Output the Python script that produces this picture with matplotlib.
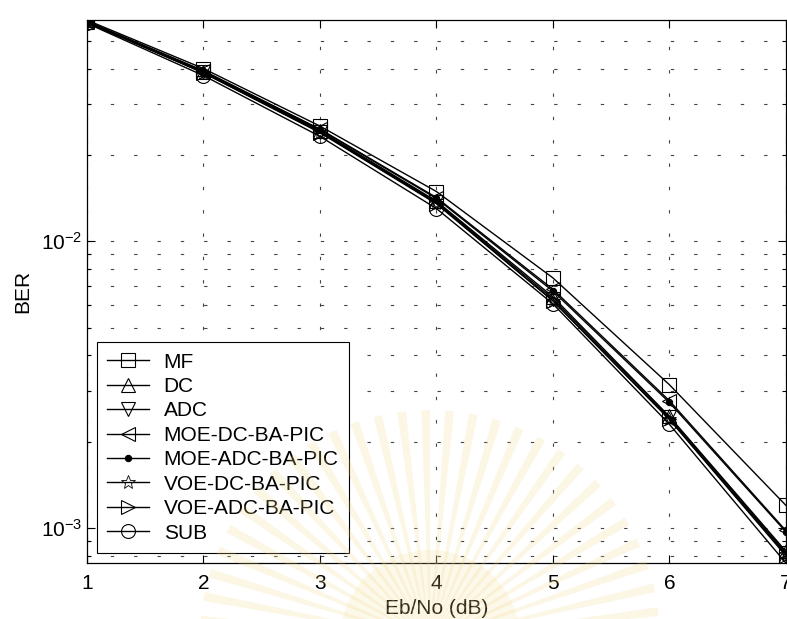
import matplotlib
matplotlib.use("Agg")
import matplotlib.pyplot as plt
from matplotlib.patches import Wedge
import numpy as np

plt.rcParams['font.family'] = ['Liberation Sans', 'DejaVu Sans']
plt.rcParams['mathtext.fontset'] = 'custom'
plt.rcParams['mathtext.rm'] = 'Liberation Sans'
plt.rcParams['mathtext.it'] = 'Liberation Sans:italic'
plt.rcParams['mathtext.bf'] = 'Liberation Sans:bold'

# Eb/No in dB
ebno = [1, 2, 3, 4, 5, 6, 7]

labels = ["MF", "DC", "ADC", "MOE-DC-BA-PIC", "MOE-ADC-BA-PIC",
          "VOE-DC-BA-PIC", "VOE-ADC-BA-PIC", "SUB"]

ber_mf = [0.0590, 0.0400, 0.0252, 0.0149, 0.00745, 0.00316, 0.00120]
ber_dc = [0.0580, 0.0390, 0.0243, 0.0138, 0.00640, 0.00245, 0.00083]
ber_adc = [0.0580, 0.0388, 0.0241, 0.0137, 0.00630, 0.00243, 0.00082]
ber_moe_dc = [0.0585, 0.0393, 0.0246, 0.0142, 0.00680, 0.00278, 0.00098]
ber_moe_adc = [0.0583, 0.0392, 0.0245, 0.0141, 0.00670, 0.00274, 0.00097]
ber_voe_dc = [0.0580, 0.0387, 0.0240, 0.0136, 0.00620, 0.00240, 0.00081]
ber_voe_adc = [0.0580, 0.0386, 0.0239, 0.0135, 0.00620, 0.00239, 0.00080]
ber_sub = [0.0575, 0.0378, 0.0232, 0.0130, 0.00605, 0.00230, 0.000755]

series = [ber_mf, ber_dc, ber_adc, ber_moe_dc, ber_moe_adc,
          ber_voe_dc, ber_voe_adc, ber_sub]
markers = ['s', '^', 'v', '<', '.', '*', '>', 'o']

fig = plt.figure(figsize=(7.87, 6.19), dpi=100)

ax = fig.add_axes([0.1105, 0.0905, 0.888, 0.877])

for vals, lab, mk in zip(series, labels, markers):
    kw = dict(color='black', lw=1.0, marker=mk, label=lab,
              markeredgecolor='black', markeredgewidth=0.8)
    if mk == '.':
        kw.update(markersize=9, markerfacecolor='black')
    elif mk == '*':
        kw.update(markersize=10, markerfacecolor='none', markeredgewidth=0.6)
    else:
        kw.update(markersize=10, markerfacecolor='none')
    ax.plot(ebno, vals, **kw)

ax.set_yscale('log')
ax.set_xlim(min(ebno), max(ebno))
ymin = min(min(s) for s in series)
ymax = max(max(s) for s in series)
ax.set_ylim(ymin, ymax)
ax.set_xticks(ebno)

grid_style = dict(color='#444444', lw=0.8, linestyle=(0, (3, 18)))
ax.grid(True, which='major', axis='both', **grid_style)
ax.grid(True, which='minor', axis='y', **grid_style)

ax.tick_params(which='both', direction='in', top=True, right=True,
               labelsize=15, width=0.8)
ax.tick_params(which='major', length=6)
ax.tick_params(which='minor', length=3)
ax.tick_params(axis='x', pad=8)
for sp in ax.spines.values():
    sp.set_linewidth(0.9)

ax.set_xlabel("Eb/No (dB)", fontsize=15, labelpad=4)
ax.set_ylabel("BER", fontsize=15, labelpad=6)

leg = ax.legend(loc='lower left', bbox_to_anchor=(0.0143, 0.0184),
                borderaxespad=0, fontsize=15, handlelength=2.0,
                handletextpad=0.7, labelspacing=0.26, borderpad=0.5,
                fancybox=False, framealpha=1, edgecolor='black')
leg.get_frame().set_linewidth(0.8)

# faint sunburst emblem printed over the lower part of the page
c = (430, 619 - 640)
for k in range(0, 60, 2):
    a0 = k * 3.0
    fig.patches.append(Wedge(c, 230, a0, a0 + 2.2, transform=None,
                             facecolor='#f2d98c', edgecolor='none',
                             alpha=0.22, zorder=10))
fig.patches.append(Wedge(c, 90, 0, 180, transform=None,
                         facecolor='#f2d98c', edgecolor='none',
                         alpha=0.18, zorder=10))

fig.savefig("out.png", dpi=100)
